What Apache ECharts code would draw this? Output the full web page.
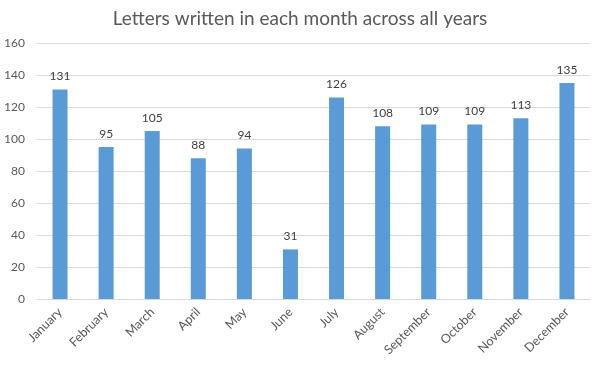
<!DOCTYPE html>
<html><head><meta charset="utf-8">
<script src="https://cdn.jsdelivr.net/npm/echarts@6/dist/echarts.min.js"></script>
<style>html,body{margin:0;padding:0;background:#fff}#c{width:600px;height:366px}</style>
</head><body><div id="c"></div>
<script>
const months = ["January","February","March","April","May","June","July","August","September","October","November","December"];
const letters = [131,95,105,88,94,31,126,108,109,109,113,135];
const yTicks = {min:0,max:160,interval:20};

const chart = echarts.init(document.getElementById('c'));
chart.setOption({
  animation:false,
  textStyle:{fontFamily:'Lato'},
  title:{text:'Letters written in each month across all years',left:'center',top:4,
    textStyle:{fontFamily:'Lato',fontSize:19,fontWeight:'normal',color:'#595959'}},
  grid:{left:37,right:10,top:43,bottom:67,containLabel:false},
  xAxis:{type:'category',data:months,
    axisLine:{lineStyle:{color:'#d9d9d9'}},axisTick:{show:false},
    axisLabel:{rotate:45,color:'#595959',fontSize:12.5,interval:0,margin:11}},
  yAxis:{type:'value',min:yTicks.min,max:yTicks.max,interval:yTicks.interval,
    axisLine:{show:false},axisTick:{show:false},
    splitLine:{lineStyle:{color:'#d9d9d9'}},
    axisLabel:{color:'#595959',fontSize:12,margin:12}},
  series:[{type:'bar',data:letters,barWidth:15,
    itemStyle:{color:'#5b9bd5'},
    label:{show:true,position:'top',color:'#404040',fontSize:12,distance:7}}]
});
</script></body></html>
